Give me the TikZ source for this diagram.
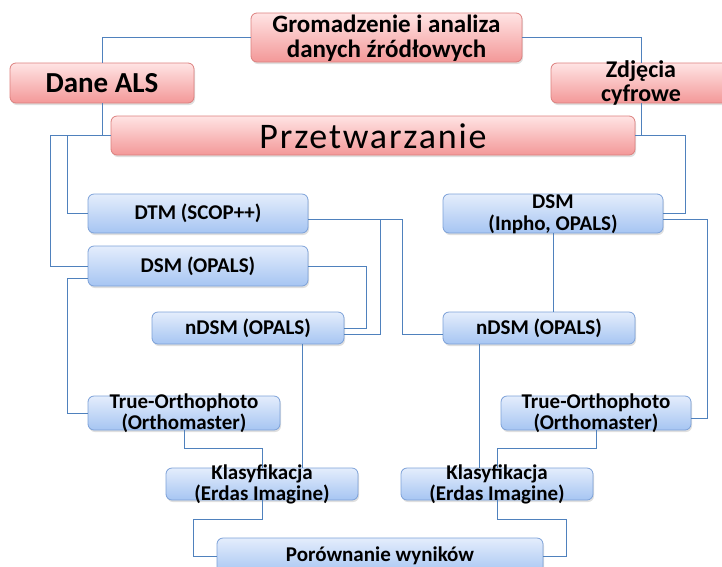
\documentclass[tikz,border=0pt]{standalone}
\usepackage{fontspec}
\setmainfont{Carlito}
\newfontfamily\widefont[LetterSpace=5]{Carlito}
\usetikzlibrary{positioning,shadows}
\definecolor{pinktop}{RGB}{255,228,228}
\definecolor{pinkbot}{RGB}{243,152,152}
\definecolor{pinkline}{RGB}{220,128,126}
\definecolor{bluetop}{RGB}{228,237,252}
\definecolor{bluebot}{RGB}{166,197,242}
\definecolor{blueline}{RGB}{124,161,216}
\definecolor{linkblue}{RGB}{79,129,189}
% text of a box, kept out of the box size
\newcommand{\boxtxt}[1]{\smash{\raisebox{-0.33em}{\begin{tabular}{@{}c@{}}#1\end{tabular}}}}
\tikzset{
src_box/.style={
	% The shape:
	rectangle,
	rounded corners=6pt,
	inner sep=0pt,
	% The border:
	line width=0.8pt,
	draw=pinkline,
	% The filling:
	top color=pinktop,
	bottom color=pinkbot,
	drop shadow={opacity=0.25,shadow xshift=1pt,shadow yshift=-2pt},
	% Font
	font=\bfseries\fontsize{25}{25}\selectfont
},
tool_box/.style={
	rectangle,
	rounded corners=6pt,
	inner sep=0pt,
	line width=0.8pt,
	draw=blueline,
	top color=bluetop,
	bottom color=bluebot,
	drop shadow={opacity=0.25,shadow xshift=1pt,shadow yshift=-2pt},
	font=\bfseries\fontsize{21}{21}\selectfont
},
link/.style={draw=linkblue, line width=0.8pt}
}

\begin{document}
\begin{tikzpicture}[x=1pt, y=-1pt]
			\useasboundingbox (0,0) rectangle (722,566);
			\clip (0,0) rectangle (722,566);

			% source data
			\node[src_box, minimum width=271pt, minimum height=49pt] (gather) at (386.5,37.5) {\boxtxt{Gromadzenie i analiza\\danych źródłowych}};
			\node[src_box, minimum width=184pt, minimum height=40pt, font=\bfseries\fontsize{29}{29}\selectfont] (als) at (102,83) {\boxtxt{Dane ALS}};
			\node[src_box, minimum width=180pt, minimum height=40pt, font=\bfseries\fontsize{24}{24}\selectfont] (photo) at (641,83) {\boxtxt{Zdjęcia\\cyfrowe}};
			\node[src_box, minimum width=524pt, minimum height=39pt, font=\widefont\fontsize{36}{36}\selectfont] (proc) at (373,135.5) {\boxtxt{Przetwarzanie}};

			% left branch
			\node[tool_box, minimum width=220pt, minimum height=39pt] (dtm) at (198,213.5) {\boxtxt{DTM (SCOP++)}};
			\node[tool_box, minimum width=220pt, minimum height=40pt] (dsmL) at (198,266) {\boxtxt{DSM (OPALS)}};
			\node[tool_box, minimum width=192pt, minimum height=32pt] (ndsmL) at (248,328) {\boxtxt{nDSM (OPALS)}};
			\node[tool_box, minimum width=192pt, minimum height=34pt] (trueL) at (184,413) {\boxtxt{True-Orthophoto\\(Orthomaster)}};
			\node[tool_box, minimum width=192pt, minimum height=32pt] (klasL) at (262,484) {\boxtxt{Klasyfikacja\\(Erdas Imagine)}};

			% right branch
			\node[tool_box, minimum width=220pt, minimum height=39pt] (dsmR) at (553,213.5) {\boxtxt{DSM\\(Inpho, OPALS)}};
			\node[tool_box, minimum width=192pt, minimum height=32pt] (ndsmR) at (539,328) {\boxtxt{nDSM (OPALS)}};
			\node[tool_box, minimum width=190pt, minimum height=34pt] (trueR) at (596,413) {\boxtxt{True-Orthophoto\\(Orthomaster)}};
			\node[tool_box, minimum width=192pt, minimum height=32pt] (klasR) at (497,484) {\boxtxt{Klasyfikacja\\(Erdas Imagine)}};

			\node[tool_box, minimum width=326pt, minimum height=36pt] (cmp) at (380,556) {\boxtxt{Porównanie wyników}};

			% connectors
			\draw[link] (gather.west) -| (als.north);
			\draw[link] (gather.east) -| (photo.north);
			\draw[link] (als.south) |- (proc.west);
			\draw[link] (photo.south) |- (proc.east);
			\draw[link] (proc.west) -- ++(-43,0) |- (dtm.west);
			\draw[link] (proc.west) -- ++(-60,0) |- (dsmL.west);
			\draw[link] (proc.east) -- ++(50,0) |- (dsmR.east);

			\draw[link] ([yshift=-6pt]dtm.east) -- ++(72,0) |- ([yshift=-6pt]ndsmL.east);
			\draw[link] ([yshift=-6pt]dtm.east) -- ++(94,0) |- ([yshift=-6pt]ndsmR.west);
			\draw[link] (dsmL.east) -- ++(58,0) |- (ndsmL.east);
			\draw[link] ([yshift=-12pt]dsmL.west) -- ++(-20,0) |- (trueL.west);
			\draw[link] (dsmR.south) -- (dsmR.south |- ndsmR.north);
			\draw[link] ([yshift=-6pt]dsmR.east) -- ++(44,0) |- ([yshift=-5pt]trueR.east);

			\draw[link] ([xshift=54pt]ndsmL.south) -- ([xshift=54pt]ndsmL.south |- klasL.north);
			\draw[link] ([xshift=-60pt]ndsmR.south) -- ([xshift=-60pt]ndsmR.south |- klasR.north);
			\draw[link] (trueL.south) -- ++(0,18) -| (klasL.north);
			\draw[link] (trueR.south) -- ++(0,18) -| (klasR.north);
			\draw[link] (klasL.south) -- ++(0,19) -- ++(-69,0) |- (cmp.west);
			\draw[link] (klasR.south) -- ++(0,19) -- ++(69,0) |- (cmp.east);
		\end{tikzpicture}
\end{document}
